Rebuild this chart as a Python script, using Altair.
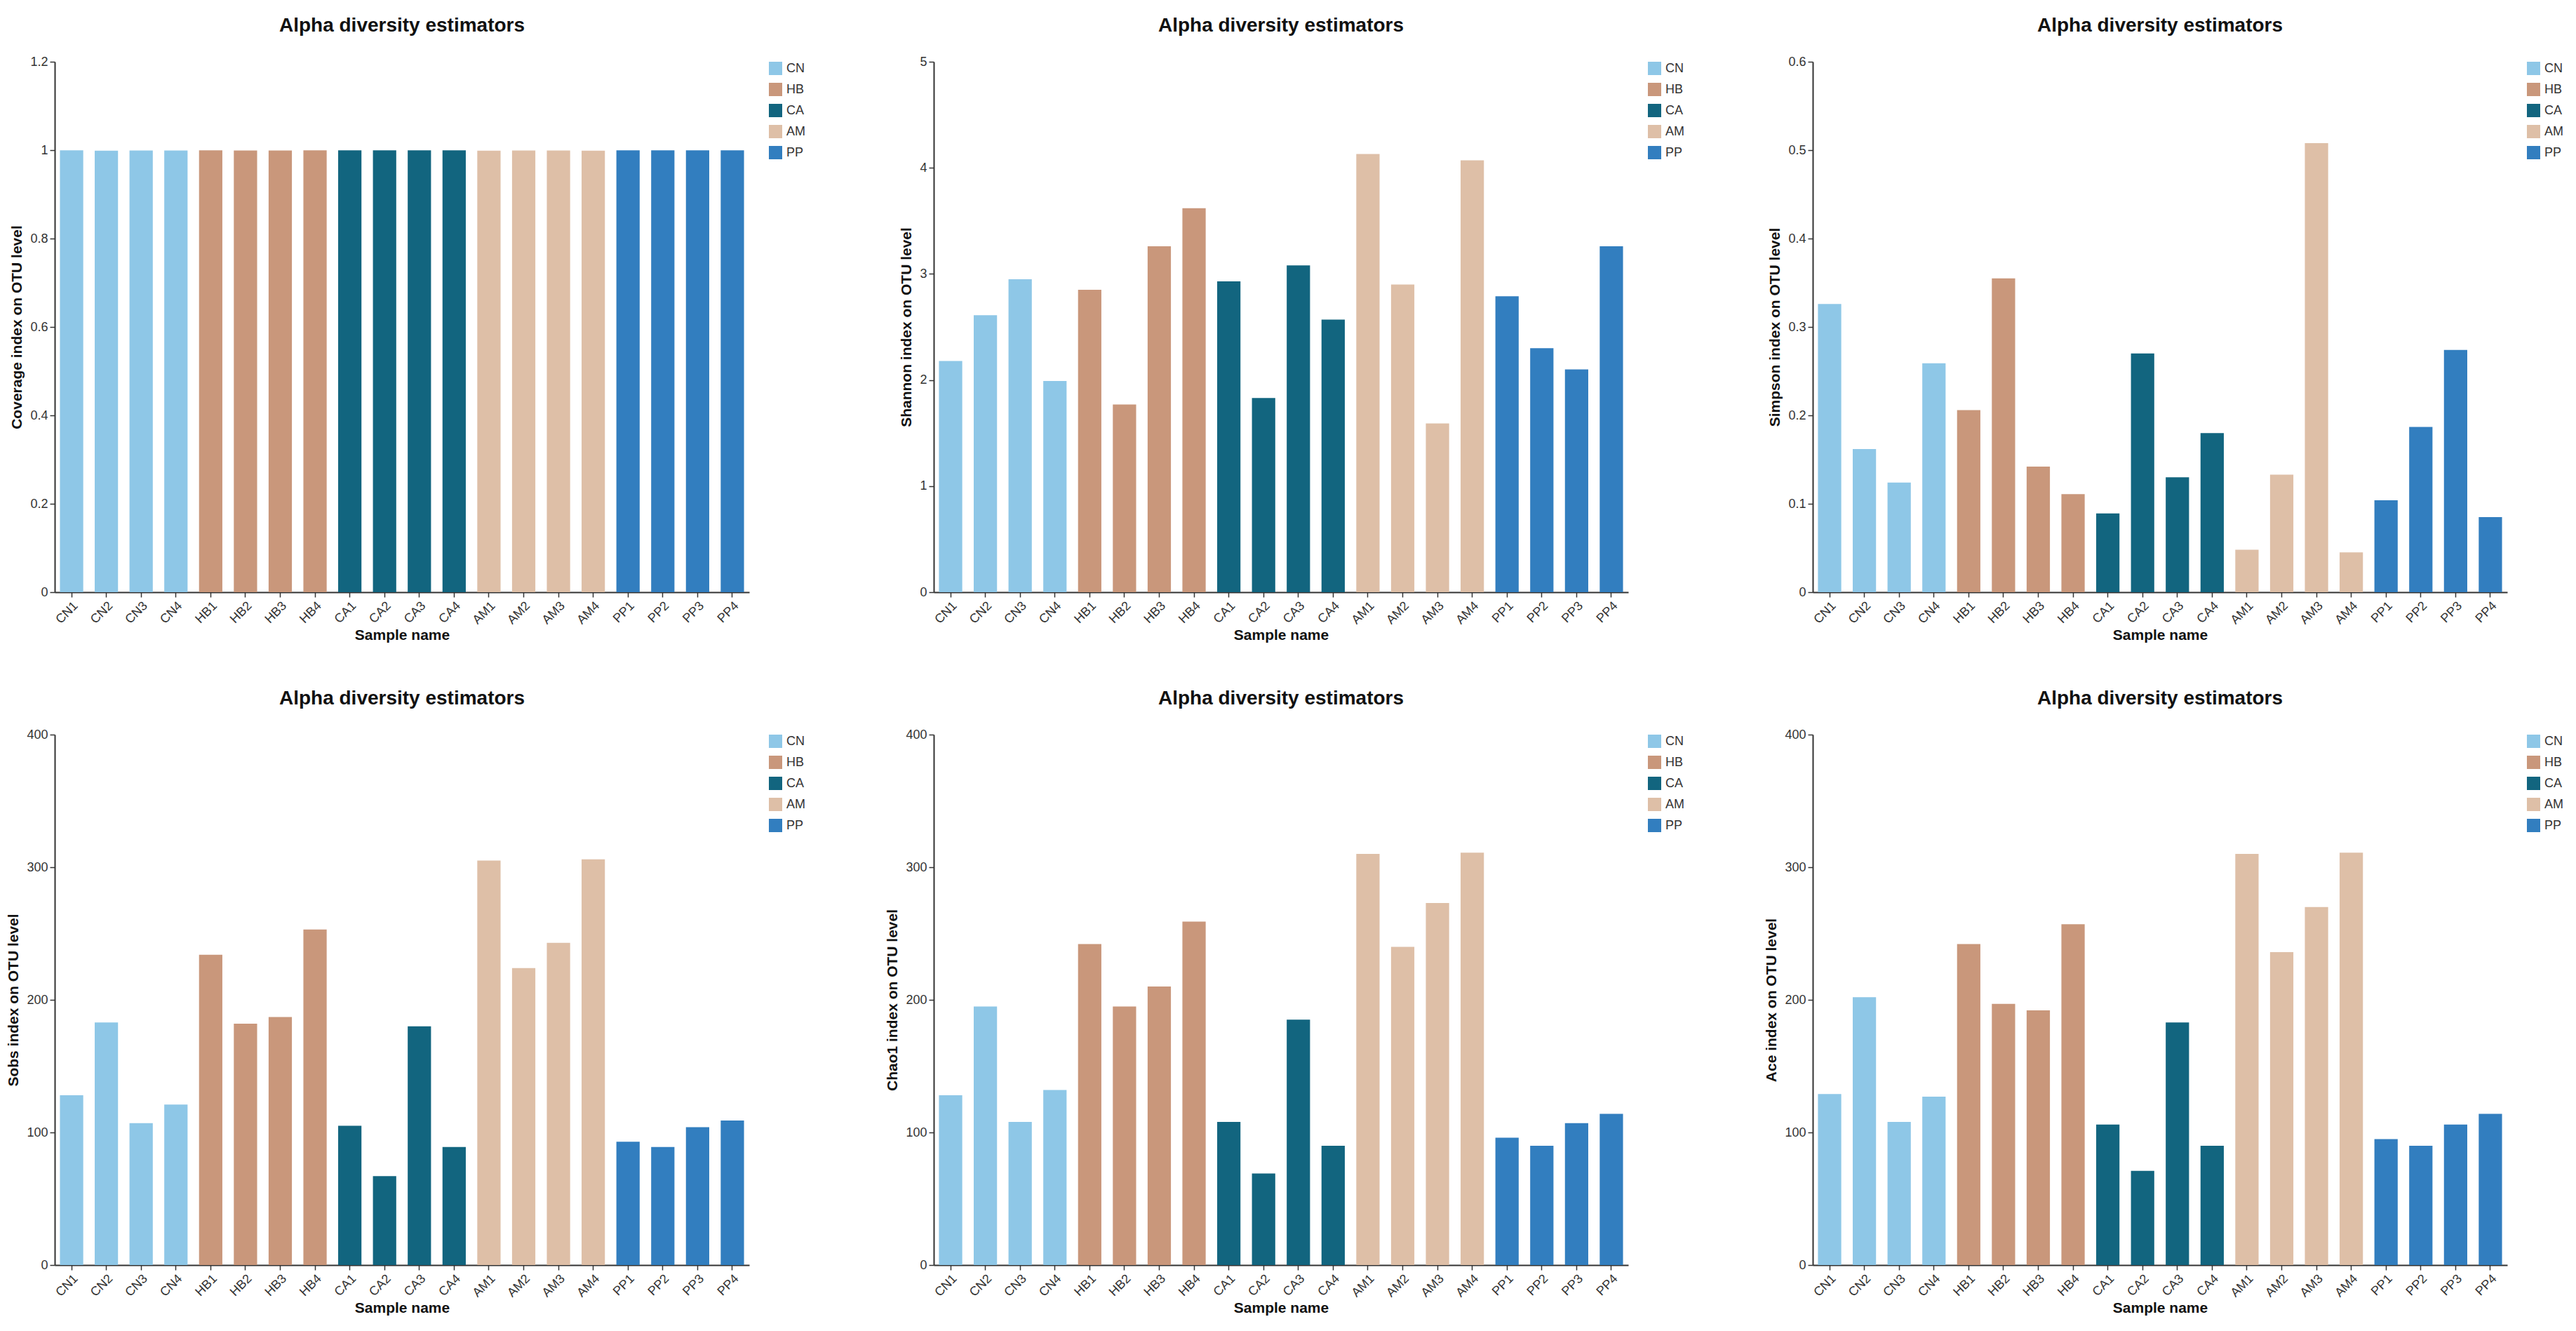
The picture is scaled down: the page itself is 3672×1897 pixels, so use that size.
import altair as alt
import pandas as pd

samples = ["CN1", "CN2", "CN3", "CN4", "HB1", "HB2", "HB3", "HB4",
           "CA1", "CA2", "CA3", "CA4", "AM1", "AM2", "AM3", "AM4",
           "PP1", "PP2", "PP3", "PP4"]
groups = ["CN"] * 4 + ["HB"] * 4 + ["CA"] * 4 + ["AM"] * 4 + ["PP"] * 4
group_order = ["CN", "HB", "CA", "AM", "PP"]
group_colors = ["#8EC7E7", "#C9977B", "#12657F", "#DEBFA7", "#327EBF"]

coverage = [0.9997, 0.9990, 0.9992, 0.9993, 0.9996, 0.9994, 0.9993, 0.9995,
            0.9997, 0.9996, 0.9995, 0.9997, 0.9990, 0.9991, 0.9992, 0.9990,
            0.9996, 0.9997, 0.9996, 0.9995]
shannon = [2.18, 2.61, 2.95, 1.99, 2.85, 1.77, 3.26, 3.62,
           2.93, 1.83, 3.08, 2.57, 4.13, 2.90, 1.59, 4.07,
           2.79, 2.30, 2.10, 3.26]
simpson = [0.326, 0.162, 0.124, 0.259, 0.206, 0.355, 0.142, 0.111,
           0.089, 0.270, 0.130, 0.180, 0.048, 0.133, 0.508, 0.045,
           0.104, 0.187, 0.274, 0.085]
sobs = [128, 183, 107, 121, 234, 182, 187, 253,
        105, 67, 180, 89, 305, 224, 243, 306,
        93, 89, 104, 109]
chao1 = [128, 195, 108, 132, 242, 195, 210, 259,
         108, 69, 185, 90, 310, 240, 273, 311,
         96, 90, 107, 114]
ace = [129, 202, 108, 127, 242, 197, 192, 257,
       106, 71, 183, 90, 310, 236, 270, 311,
       95, 90, 106, 114]

panels = [
    ("Coverage index on OTU level", coverage, [0, 1.2], [0, 0.2, 0.4, 0.6, 0.8, 1, 1.2]),
    ("Shannon index on OTU level", shannon, [0, 5], [0, 1, 2, 3, 4, 5]),
    ("Simpson index on OTU level", simpson, [0, 0.6], [0, 0.1, 0.2, 0.3, 0.4, 0.5, 0.6]),
    ("Sobs index on OTU level", sobs, [0, 400], [0, 100, 200, 300, 400]),
    ("Chao1 index on OTU level", chao1, [0, 400], [0, 100, 200, 300, 400]),
    ("Ace index on OTU level", ace, [0, 400], [0, 100, 200, 300, 400]),
]

FONT = "Liberation Sans"

charts = []
for ytitle, vals, dom, ticks in panels:
    df = pd.DataFrame({"sample": samples, "group": groups, "value": vals})
    c = alt.Chart(df, title=alt.Title("Alpha diversity estimators")).mark_bar().encode(
        x=alt.X("sample:N", sort=samples, title="Sample name",
                scale=alt.Scale(paddingInner=0.33, paddingOuter=0.15),
                axis=alt.Axis(labelAngle=-45, titlePadding=2)),
        y=alt.Y("value:Q", title=ytitle,
                scale=alt.Scale(domain=dom, nice=False, zero=True),
                axis=alt.Axis(values=ticks, format="~r", titlePadding=8)),
        color=alt.Color("group:N", sort=group_order,
                        scale=alt.Scale(domain=group_order, range=group_colors),
                        legend=alt.Legend(title=None, orient="right", offset=28)),
    ).properties(width=990, height=756)
    charts.append(c)

chart = alt.concat(
    *charts, columns=3, spacing={"row": 203, "column": 263}, bounds="flush"
).resolve_scale(
    color="independent", x="independent", y="independent"
).resolve_legend(
    color="independent"
).properties(
    padding={"left": 0, "top": 15, "right": 5, "bottom": 5}
).configure_view(
    stroke=None
).configure_axis(
    grid=False,
    labelFont=FONT, labelFontSize=18, labelColor="#333333",
    titleFont=FONT, titleFontSize=21, titleFontWeight="bold", titleColor="#111111",
    domainColor="#333333", domainWidth=2, tickColor="#333333", tickWidth=1.5, tickSize=7,
    labelPadding=3,
).configure_title(
    font=FONT, fontSize=28, fontWeight="bold", color="#111111",
    anchor="middle", frame="group", offset=28,
).configure_legend(
    labelFont=FONT, labelFontSize=18, labelColor="#333333",
    symbolType="square", symbolSize=361, symbolStrokeWidth=0,
    rowPadding=11, labelOffset=6,
)

chart.save("out.html", embed_options={"renderer": "svg", "actions": False})
